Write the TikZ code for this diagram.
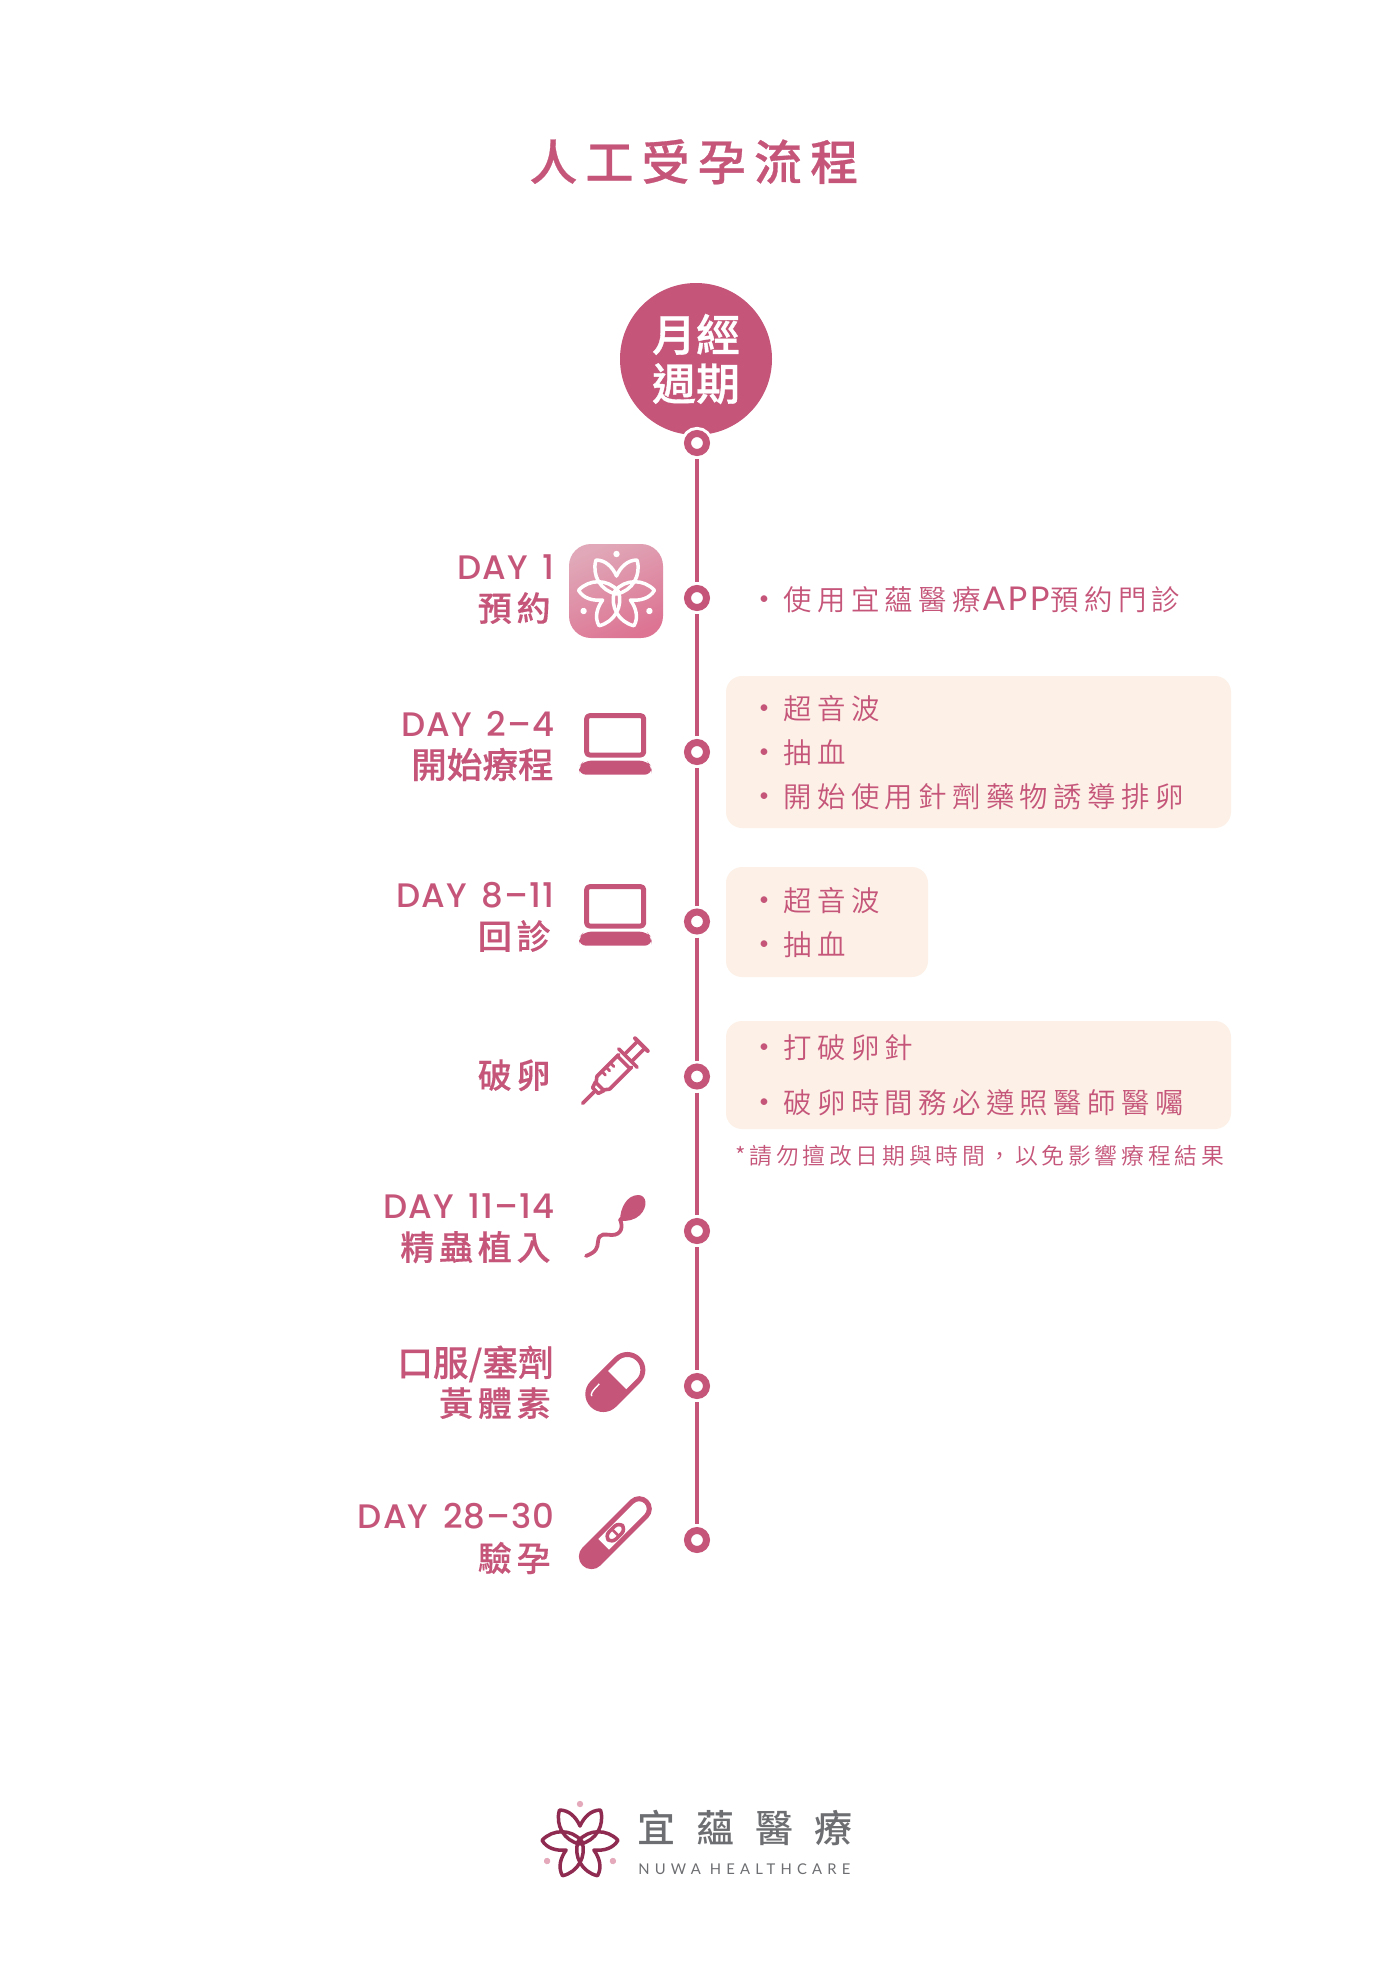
\documentclass[tikz,border=0pt]{standalone}
\usepackage{fontspec}
\setmainfont{Lato}
\newfontfamily\cjkplain{Noto Sans CJK TC}
\newfontfamily\cjkcirc[FakeBold=0.8]{Noto Sans CJK TC Medium}
\newfontfamily\cjkmed[FakeBold=0.3]{Noto Sans CJK TC Medium}
\newfontfamily\cjkmedtr[LetterSpace=14,FakeBold=0.3]{Noto Sans CJK TC Medium}
\newfontfamily\cjktitle[LetterSpace=17,FakeBold=0.6]{Noto Sans CJK TC Medium}
\newfontfamily\cjktxt[LetterSpace=19]{Noto Sans CJK TC DemiLight}
\newfontfamily\cjknote[LetterSpace=16.5]{Noto Sans CJK TC DemiLight}
\newfontfamily\cjkbrand[LetterSpace=55]{Noto Sans CJK TC Medium}
\newfontfamily\lattxt[LetterSpace=8]{Lato}
\newfontfamily\latlab[LetterSpace=3,WordSpace=1.5]{Poppins Medium}
\newfontfamily\latbrand[LetterSpace=35]{Lato}
\definecolor{rosa}{HTML}{C5567A}
\definecolor{boxc}{HTML}{FDF1E7}
\definecolor{maroon}{HTML}{8F2B50}
\definecolor{dotc}{HTML}{E4A9BA}
\definecolor{greyc}{HTML}{6D6E71}
\definecolor{appa}{HTML}{E0A8B8}
\definecolor{appb}{HTML}{DD7494}
\tikzset{
  tlnode/.style={circle,draw=rosa,fill=white,line width=3.5pt,minimum size=9.5pt,inner sep=0pt,
    preaction={draw=white,line width=6.5pt}},
  tline/.style={draw=rosa,line width=2pt,shorten <=1.5pt,shorten >=1.5pt},
  lbllat/.style={anchor=base east,inner sep=0pt,text=rosa,font=\latlab\fontsize{17}{20}\selectfont},
  lblc/.style={anchor=base east,inner sep=0pt,text=rosa,font=\cjkmed\fontsize{17.8}{20}\selectfont},
  lblt/.style={anchor=base east,inner sep=0pt,text=rosa,font=\cjkmedtr\fontsize{17}{20}\selectfont},
  txt/.style={anchor=base west,inner sep=0pt,text=rosa,font=\cjktxt\fontsize{14.2}{18}\selectfont},
  bul/.style={inner sep=0pt,text=rosa,font=\fontsize{9}{10}\selectfont},
  boxn/.style={fill=boxc,rounded corners=8pt,inner sep=0pt},
  iconl/.style={draw=rosa,line width=2.5pt,line join=round},
}
\newcommand{\flowerat}[4]{% x, y, line colour, dot colour
  \begin{scope}[shift={(#1,#2)}]
    \foreach \a in {0,120,240}{
      \begin{scope}[rotate=\a]
        \draw[draw=#3,line width=1.75pt,line join=round]
          (0,-16) .. controls (-4,-25) and (-11,-32) .. (-20.5,-32)
          .. controls (-25,-17) and (-16,-1) .. (0,2)
          .. controls (16,-1) and (25,-17) .. (20.5,-32)
          .. controls (11,-32) and (4,-25) .. (0,-16) -- cycle;
        \fill[#4] (0,-38) circle[radius=3.2];
      \end{scope}
    }
  \end{scope}}
\newcommand{\laptopat}[1]{%
  \begin{scope}[shift={(560,#1)},scale=1/3]
    \draw[iconl,rounded corners=1.5pt] (80,47) rectangle (251,165);
    \fill[rosa,rounded corners=3.5pt] (57,224) -- (57,200) -- (72,182) -- (260,182) -- (275,200) -- (275,224) -- cycle;
  \end{scope}}
\begin{document}
\begin{tikzpicture}[x=0.5pt,y=-0.5pt]
\useasboundingbox (0,0) rectangle (1392,1986);
\fill[white] (0,0) rectangle (1392,1986);

% title
\node[anchor=base west,inner sep=0pt,text=rosa,font=\cjktitle\fontsize{24}{28}\selectfont] (title) at (529,180) {人工受孕流程};

% top circle
\node[circle,fill=rosa,minimum size=76pt,inner sep=0pt,text=white,align=center,font=\cjkcirc\fontsize{22}{24.5}\selectfont] (c0) at (696,359) {月經\\週期};

% timeline nodes
\foreach \n/\y in {n0/443,n1/598,n2/752,n3/921.5,n4/1076.5,n5/1231,n6/1386,n7/1540}{
  \node[tlnode] (\n) at (697,\y) {};
}
\draw[tline] (n0) -- (n1);
\draw[tline] (n1) -- (n2);
\draw[tline] (n2) -- (n3);
\draw[tline] (n3) -- (n4);
\draw[tline] (n4) -- (n5);
\draw[tline] (n5) -- (n6);
\draw[tline] (n6) -- (n7);

% left labels
\node[lbllat] (l1a) at (555,579) {DAY 1};
\node[lblt] (l1b) at (551,621) {預約};
\node[lbllat] (l2a) at (555,736) {DAY 2–4};
\node[lblc] (l2b) at (554,778) {開始療程};
\node[lbllat] (l3a) at (555,907) {DAY 8–11};
\node[lblt] (l3b) at (551,949) {回診};
\node[lblt] (l4b) at (551,1088) {破卵};
\node[lbllat] (l5a) at (555,1218) {DAY 11–14};
\node[lblt] (l5b) at (551,1260) {精蟲植入};
\node[lblc] (l6a) at (554,1376) {口服/塞劑};
\node[lblt] (l6b) at (551,1416) {黃體素};
\node[lbllat] (l7a) at (555,1528) {DAY 28–30};
\node[lblt] (l7b) at (551,1571) {驗孕};

% right boxes
\node[boxn,minimum width=252.5pt,minimum height=76pt] (b1) at (978.5,752) {};
\node[boxn,minimum width=101pt,minimum height=55pt] (b2) at (827,922) {};
\node[boxn,minimum width=252.5pt,minimum height=54pt] (b3) at (978.5,1075) {};

% right text
\foreach \nm/\y/\t in {
  t1/600/{使用宜蘊醫療{\kern1pt\lattxt\fontsize{16.4}{18}\selectfont APP\kern.5pt}預約門診},
  t2/709/{超音波}, t3/753/{抽血}, t4/797/{開始使用針劑藥物誘導排卵},
  t5/901/{超音波}, t6/945/{抽血},
  t7/1048/{打破卵針}, t8/1103/{破卵時間務必遵照醫師醫囑}}{
  \node[bul] (\nm d) at (764,\y) {•};
  \node[txt] (\nm) at (783,\y+10.5) {\t};
}
\node[anchor=base west,inner sep=0pt,text=rosa,font=\cjknote\fontsize{11.4}{14}\selectfont] (note) at (735,1164) {*請勿擅改日期與時間，以免影響療程結果};

% app icon
\shade[rounded corners=11pt,top color=appa,bottom color=appb,shading angle=25] (569,544) rectangle (663,638);
\flowerat{616.5}{592}{white}{white}

% laptops
\laptopat{700}
\laptopat{871}

% syringe
\begin{scope}[shift={(582.7,1103.3)},rotate=45,rosa,line cap=round,line join=round]
  \draw[line width=1.8pt] (0,0) -- (16,0);
  \draw[line width=1.8pt,fill=white] (18,-4) -- (24,-6) -- (24,6) -- (18,4) -- cycle;
  \draw[line width=1.8pt] (24,-5) -- (29,-9) -- (60,-9) (24,5) -- (29,9) -- (60,9);
  \draw[line width=1.4pt] (36,-9) -- (36,-4) (42,-9) -- (42,-4) (48,-9) -- (48,-4);
  \draw[line width=1.8pt] (64,-13) -- (64,13) (58,-9) -- (58,9);
  \draw[line width=1.8pt] (64,-5) -- (83,-5) (64,5) -- (83,5);
  \draw[line width=2pt] (83,-9) -- (83,9);
\end{scope}

% sperm
\begin{scope}[shift={(560,1180)},scale=1/3]
  \fill[rosa] (180,122) .. controls (180,85) and (200,45) .. (235,45)
    .. controls (260,45) and (265,80) .. (240,105) .. controls (225,120) and (200,125) .. (180,122) -- cycle;
  \draw[rosa,line width=1.9pt,line cap=round] (78,228) .. controls (110,215) and (112,205) .. (114,185)
    .. controls (116,155) and (140,165) .. (155,165)
    .. controls (185,165) and (190,140) .. (180,118);
\end{scope}

% capsule
\begin{scope}[shift={(560,1180)},scale=1/3]
  \begin{scope}[shift={(166,606)},rotate=45]
    \begin{scope}
      \clip (-120,-70) rectangle (0,70);
      \fill[rosa,rounded corners=7.75pt] (-97.5,-46.5) rectangle (97.5,46.5);
    \end{scope}
    \draw[rosa,line width=2.5pt,rounded corners=7.75pt] (-97.5,-46.5) rectangle (97.5,46.5);
    \draw[rosa,line width=2.5pt] (0,-46.5) -- (0,46.5);
    \draw[white,line width=.7pt] (-80,-20) .. controls (-78,-27) and (-72,-30) .. (-38,-30);
  \end{scope}
\end{scope}

% pregnancy test
\begin{scope}[shift={(560,1180)},scale=1/3]
  \begin{scope}[shift={(166,1058)},rotate=45]
    \begin{scope}
      \clip (-150,-50) rectangle (-50,50);
      \fill[rosa,rounded corners=5.1pt] (-131.5,-30.5) rectangle (131.5,30.5);
    \end{scope}
    \draw[rosa,line width=2.5pt,rounded corners=5.1pt] (-131.5,-30.5) rectangle (131.5,30.5);
    \draw[rosa,line width=1.8pt,rounded corners=3pt] (-30,-15) rectangle (30,15);
    \fill[rosa] (-4,-15) rectangle (4,15);
  \end{scope}
\end{scope}

% logo
\flowerat{580}{1842}{maroon}{dotc}
\node[anchor=base west,inner sep=0pt,text=greyc,font=\cjkbrand\fontsize{19}{24}\selectfont] (brand) at (637,1842) {宜蘊醫療};
\node[anchor=base west,inner sep=0pt,text=greyc,font=\latbrand\fontsize{7.4}{9}\selectfont] (brandb) at (638,1874) {NUWA HEALTHCARE};
\end{tikzpicture}
\end{document}
